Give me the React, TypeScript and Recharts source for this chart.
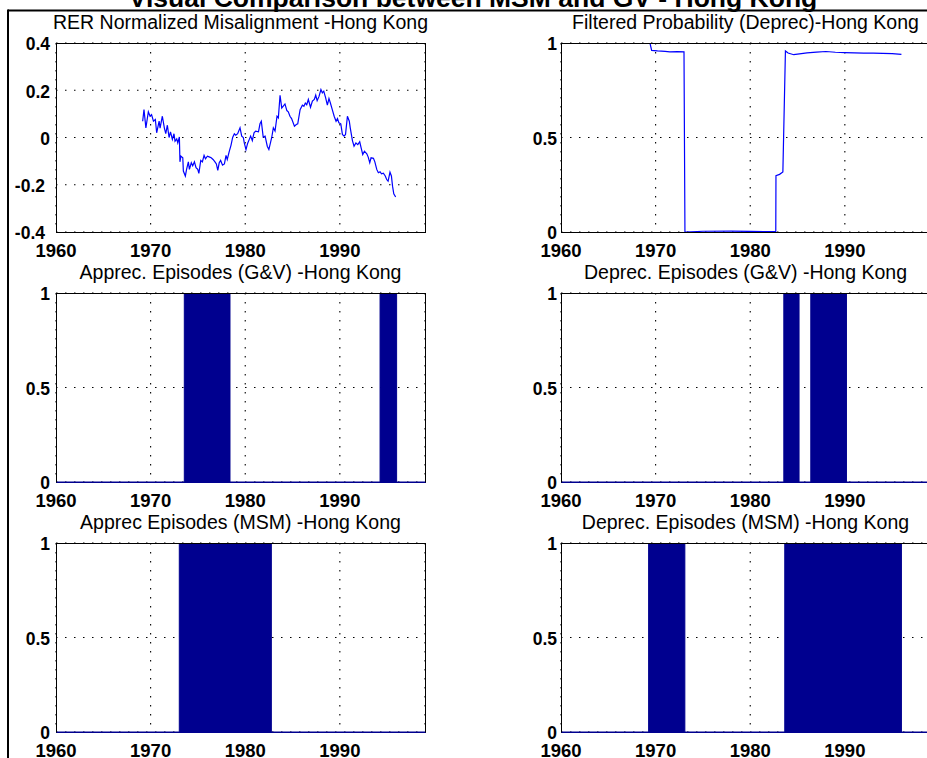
import React from 'react';
import { ComposedChart, Line, Area, XAxis, YAxis, CartesianGrid } from 'recharts';

const FONT = '"Liberation Sans", Arial, Helvetica, sans-serif';
const LINE_BLUE = '#0000ff';
const BAND_NAVY = '#00008f';

// subplot geometry (plot boxes)
const PLOT_W = 369;
const PLOT_H = 189;
const AXIS_W = 56;
const AXIS_H = 32;
const PAD = 2;
const PAD_TOP = 12;
const COL_X = [56, 561];
const ROW_Y = [43, 293, 543];

const YEAR_DOMAIN = [1960, 1999];
const YEAR_TICKS = [1960, 1970, 1980, 1990];
const RER_TICKS = [-0.4, -0.2, 0, 0.2, 0.4];
const PROB_TICKS = [0, 0.5, 1];

// RER normalized misalignment
const rerYears = [
  1969.16, 1969.3, 1969.5, 1969.76, 1969.94, 1970.1, 1970.3, 1970.5, 1970.64, 1970.9,
  1971.0, 1971.24, 1971.45, 1971.6, 1971.77, 1971.95, 1972.1, 1972.3, 1972.47, 1972.58,
  1972.76, 1972.87, 1973.04, 1973.1, 1973.2, 1973.4, 1973.46, 1973.67, 1973.8, 1973.99,
  1974.1, 1974.3, 1974.45, 1974.63, 1974.8, 1974.98, 1975.1, 1975.3, 1975.47, 1975.65,
  1975.8, 1976.0, 1976.25, 1976.4, 1976.6, 1976.8, 1976.95, 1977.1, 1977.25, 1977.4,
  1977.6, 1977.8, 1977.97, 1978.1, 1978.3, 1978.5, 1978.67, 1978.85, 1979.0, 1979.2,
  1979.45, 1979.63, 1979.8, 1979.9, 1980.08, 1980.25, 1980.43, 1980.57, 1980.75, 1980.93,
  1981.1, 1981.4, 1981.56, 1981.7, 1981.9, 1982.1, 1982.33, 1982.5, 1982.8, 1982.97,
  1983.15, 1983.36, 1983.5, 1983.68, 1983.86, 1984.0, 1984.2, 1984.4, 1984.55, 1984.73,
  1984.9, 1985.2, 1985.4, 1985.55, 1985.8, 1986.04, 1986.2, 1986.35, 1986.5, 1986.67,
  1986.9, 1987.1, 1987.3, 1987.45, 1987.6, 1987.8, 1988.0, 1988.15, 1988.3, 1988.5,
  1988.68, 1988.85, 1989.0, 1989.2, 1989.4, 1989.6, 1989.75, 1989.9, 1990.1, 1990.27,
  1990.45, 1990.6, 1990.8, 1991.0, 1991.1, 1991.33, 1991.5, 1991.7, 1991.9, 1992.1,
  1992.25, 1992.42, 1992.6, 1992.85, 1993.0, 1993.16, 1993.3, 1993.55, 1993.7, 1993.9,
  1994.07, 1994.25, 1994.4, 1994.6, 1994.8, 1994.95, 1995.1, 1995.3, 1995.45, 1995.57,
  1995.7, 1995.9,
];
const rerValues = [
  0.069, 0.118, 0.041, 0.109, 0.09, 0.097, 0.069, 0.076, 0.02, 0.069,
  0.04, 0.09, 0.041, 0.016, 0.052, 0.0, 0.024, -0.008, 0.016, -0.016,
  -0.006, -0.023, 0.002, -0.103, -0.079, -0.086, -0.142, -0.163, -0.135, -0.103,
  -0.135, -0.107, -0.12, -0.103, -0.128, -0.135, -0.152, -0.097, -0.103, -0.076,
  -0.09, -0.079, -0.083, -0.086, -0.093, -0.103, -0.112, -0.139, -0.107, -0.097,
  -0.117, -0.112, -0.076, -0.093, -0.061, -0.032, 0.0, 0.016, 0.01, 0.016,
  0.041, 0.006, 0.0, -0.023, -0.051, -0.025, -0.008, 0.006, -0.013, 0.02,
  0.027, 0.024, 0.058, 0.069, 0.002, 0.006, -0.037, -0.051, 0.0, 0.041,
  0.027, 0.09, 0.083, 0.179, 0.125, 0.132, 0.142, 0.114, 0.109, 0.09,
  0.08, 0.048, 0.055, 0.058, 0.118, 0.137, 0.132, 0.146, 0.139, 0.161,
  0.128, 0.154, 0.161, 0.179, 0.156, 0.174, 0.203, 0.189, 0.196, 0.168,
  0.137, 0.165, 0.146, 0.118, 0.09, 0.069, 0.08, 0.062, 0.058, 0.013,
  0.006, 0.013, 0.09, 0.069, 0.041, -0.013, -0.037, -0.023, -0.03, -0.018,
  -0.044, -0.072, -0.058, -0.069, -0.083, -0.107, -0.086, -0.088, -0.103, -0.135,
  -0.149, -0.145, -0.154, -0.151, -0.163, -0.178, -0.185, -0.147, -0.163, -0.206,
  -0.238, -0.252,
];

// filtered probability of the depreciation regime
const probYears = [
  1969.4, 1969.58, 1970.2, 1971.0, 1971.5, 1972.3, 1973.0, 1973.1, 1975.0, 1978.0,
  1980.0, 1982.7, 1982.72, 1983.1, 1983.45, 1983.72, 1984.0, 1984.6, 1985.2, 1986.0,
  1987.0, 1988.0, 1989.0, 1990.0, 1991.0, 1992.0, 1993.0, 1994.0, 1995.0, 1995.98,
];
const probValues = [
  1.0, 0.961, 0.958, 0.956, 0.953, 0.954, 0.953, 0.0, 0.004, 0.005,
  0.003, 0.002, 0.298, 0.305, 0.318, 0.958, 0.947, 0.938, 0.942, 0.948,
  0.952, 0.955, 0.951, 0.949, 0.948, 0.946, 0.946, 0.945, 0.944, 0.94,
];

// episodes as [start, end] years
const apprecGV = [[1973.56, 1978.39], [1994.25, 1996.0]];
const deprecGV = [[1983.55, 1985.16], [1986.4, 1990.17]];
const apprecMSM = [[1973.03, 1982.76]];
const deprecMSM = [[1969.26, 1973.09], [1983.65, 1995.98]];

type Pt = { x: number; y: number };

const zip = (xs: number[], ys: number[]): Pt[] => xs.map((x, i) => ({ x, y: ys[i] }));

// 0/1 step series built from episode bounds
const toSteps = (eps: number[][]): Pt[] => {
  const pts: Pt[] = [{ x: YEAR_DOMAIN[0], y: 0 }];
  eps.forEach(([s, e]) => {
    pts.push({ x: s, y: 1 }, { x: e, y: 0 });
  });
  pts.push({ x: YEAR_DOMAIN[1], y: 0 });
  return pts;
};

const YTick = (props: any) => {
  const { x, y, payload } = props;
  const v = payload.value;
  return (
    <text
      x={x - (v < 0 ? 5 : 0)}
      y={y}
      dy="0.42em"
      textAnchor="end"
      fill="#000"
      fontSize={17.5}
      fontWeight="bold"
      fontFamily={FONT}
    >
      {String(v)}
    </text>
  );
};

interface PanelProps {
  col: number;
  row: number;
  data: Pt[];
  kind: 'line' | 'band';
  yTicks: number[];
}

const Panel: React.FC<PanelProps> = ({ col, row, data, kind, yTicks }) => {
  const px = COL_X[col];
  const py = ROW_Y[row];
  const yDomain = [yTicks[0], yTicks[yTicks.length - 1]];
  return (
    <>
      <div style={{ position: 'absolute', left: px - AXIS_W, top: py - PAD_TOP }}>
        <ComposedChart
          width={AXIS_W + PLOT_W + PAD}
          height={PAD_TOP + PLOT_H + AXIS_H}
          data={data}
          margin={{ top: PAD_TOP, right: PAD, bottom: 0, left: 0 }}
        >
          <CartesianGrid stroke="#000" strokeDasharray="1.5 7.5" strokeWidth={1.1} />
          <XAxis
            dataKey="x"
            type="number"
            domain={YEAR_DOMAIN}
            ticks={YEAR_TICKS}
            interval={0}
            allowDataOverflow
            axisLine={false}
            tickLine={false}
            tickSize={0}
            tickMargin={11.5}
            height={AXIS_H}
            tick={{ fill: '#000', fontSize: 18.5, fontWeight: 'bold', fontFamily: FONT }}
          />
          <YAxis
            type="number"
            domain={yDomain}
            ticks={yTicks}
            interval={0}
            allowDataOverflow
            axisLine={false}
            tickLine={false}
            tickSize={0}
            tickMargin={col === 0 ? 6 : 4}
            width={AXIS_W}
            tick={(p: any) => <YTick {...p} />}
          />
          {kind === 'line' ? (
            <Line
              type="linear"
              dataKey="y"
              stroke={LINE_BLUE}
              strokeWidth={1.2}
              dot={false}
              isAnimationActive={false}
            />
          ) : (
            <Area
              type="stepAfter"
              dataKey="y"
              stroke={BAND_NAVY}
              strokeWidth={1}
              fill={BAND_NAVY}
              fillOpacity={1}
              isAnimationActive={false}
            />
          )}
        </ComposedChart>
      </div>
      {/* axes box */}
      <div
        style={{
          position: 'absolute',
          left: px - 0.5,
          top: py - 0.5,
          width: PLOT_W + 1,
          height: PLOT_H + 1,
          boxSizing: 'border-box',
          border: '1px solid #000',
          borderBottomColor: kind === 'band' ? BAND_NAVY : '#000',
          pointerEvents: 'none',
        }}
      />
    </>
  );
};

const titles = [
  { col: 0, row: 0, text: 'RER Normalized Misalignment -Hong Kong' },
  { col: 1, row: 0, text: 'Filtered Probability (Deprec)-Hong Kong' },
  { col: 0, row: 1, text: 'Apprec. Episodes (G&V) -Hong Kong' },
  { col: 1, row: 1, text: 'Deprec. Episodes (G&V) -Hong Kong' },
  { col: 0, row: 2, text: 'Apprec Episodes (MSM) -Hong Kong' },
  { col: 1, row: 2, text: 'Deprec. Episodes (MSM) -Hong Kong' },
];

export default function App() {
  return (
    <div
      style={{
        position: 'absolute',
        left: 0,
        top: 0,
        width: 927,
        height: 758,
        overflow: 'hidden',
        background: '#fff',
        fontFamily: FONT,
      }}
    >
      <Panel col={0} row={0} data={zip(rerYears, rerValues)} kind="line" yTicks={RER_TICKS} />
      <Panel col={1} row={0} data={zip(probYears, probValues)} kind="line" yTicks={PROB_TICKS} />
      <Panel col={0} row={1} data={toSteps(apprecGV)} kind="band" yTicks={PROB_TICKS} />
      <Panel col={1} row={1} data={toSteps(deprecGV)} kind="band" yTicks={PROB_TICKS} />
      <Panel col={0} row={2} data={toSteps(apprecMSM)} kind="band" yTicks={PROB_TICKS} />
      <Panel col={1} row={2} data={toSteps(deprecMSM)} kind="band" yTicks={PROB_TICKS} />

      <svg
        width={927}
        height={758}
        style={{ position: 'absolute', left: 0, top: 0, pointerEvents: 'none' }}
      >
        {/* figure border */}
        <line x1={8} y1={10.5} x2={927} y2={10.5} stroke="#000" strokeWidth={2} />
        <line x1={8} y1={9.5} x2={8} y2={758} stroke="#000" strokeWidth={2} />
        <text
          x={473}
          y={6.5}
          textAnchor="middle"
          fontSize={26.5}
          fontWeight="bold"
          fontFamily={FONT}
          fill="#000"
        >
          Visual Comparison between MSM and GV - Hong Kong
        </text>
        {titles.map((t) => (
          <text
            key={t.text}
            x={COL_X[t.col] + PLOT_W / 2}
            y={ROW_Y[t.row] - 14}
            textAnchor="middle"
            fontSize={19.5}
            fontFamily={FONT}
            fill="#000"
          >
            {t.text}
          </text>
        ))}
      </svg>
    </div>
  );
}
